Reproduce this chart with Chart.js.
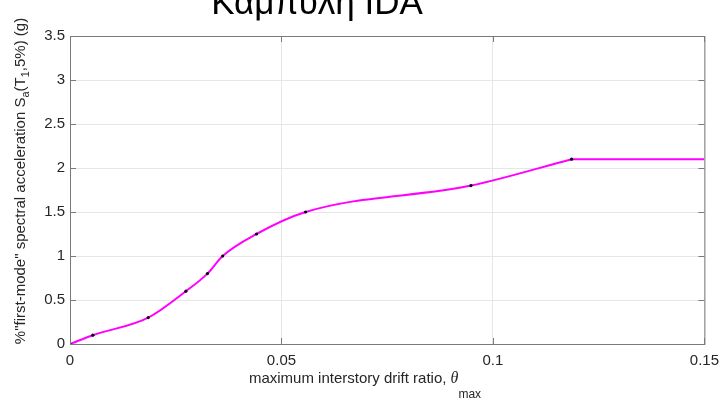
<!DOCTYPE html>
<html>
<head>
<meta charset="utf-8">
<script src="https://cdn.jsdelivr.net/npm/chart.js@4.4.0/dist/chart.umd.min.js"></script>
<style>
  html, body { margin: 0; padding: 0; background: #fff; }
</style>
</head>
<body>
<canvas id="idaChart" width="727" height="401"></canvas>
<script>
// IDA curve: max interstory drift vs first-mode spectral acceleration
const driftRatio = [0, 0.0054, 0.0185, 0.0274, 0.0325, 0.0361, 0.0441, 0.0557, 0.0948, 0.1186];
const spectralAcc = [0, 0.1, 0.3, 0.6, 0.8, 1.0, 1.25, 1.5, 1.8, 2.1];
// flatline after the last converged run
const flatDrift = [0.1186, 0.15];
const flatAcc = [2.1, 2.1];
const xTicks = [0, 0.05, 0.1, 0.15];
const yTicks = [0, 0.5, 1, 1.5, 2, 2.5, 3, 3.5];

const TEXT = '#262626';
const AXIS = '#7a7a7a';
const SANS = '"Liberation Sans", Arial, sans-serif';

function drawRuns(ctx, runs, x, y, angle) {
    ctx.save();
    ctx.translate(x, y);
    ctx.rotate(angle);
    let total = 0;
    runs.forEach(r => {
        ctx.font = r.font;
        r.w = ctx.measureText(r.text).width;
        total += r.w;
    });
    let cx = -total / 2;
    ctx.textAlign = 'left';
    ctx.textBaseline = 'alphabetic';
    ctx.fillStyle = TEXT;
    runs.forEach(r => {
        ctx.font = r.font;
        ctx.fillText(r.text, cx, r.dy || 0);
        cx += r.w;
    });
    ctx.restore();
}

// box around the axes with inward ticks, titles with subscripts
const matlabAxes = {
    id: 'matlabAxes',
    afterDatasetsDraw(chart) {
        const { ctx, chartArea: a, scales } = chart;
        ctx.save();
        ctx.strokeStyle = AXIS;
        ctx.lineWidth = 1;
        ctx.strokeRect(a.left + 0.5, a.top + 0.5, a.right - a.left, a.bottom - a.top);
        ctx.beginPath();
        xTicks.forEach(v => {
            const px = Math.round(scales.x.getPixelForValue(v)) + 0.5;
            ctx.moveTo(px, a.bottom); ctx.lineTo(px, a.bottom - 6);
            ctx.moveTo(px, a.top); ctx.lineTo(px, a.top + 6);
        });
        yTicks.forEach(v => {
            const py = Math.round(scales.y.getPixelForValue(v)) + 0.5;
            ctx.moveTo(a.left, py); ctx.lineTo(a.left + 6, py);
            ctx.moveTo(a.right, py); ctx.lineTo(a.right - 6, py);
        });
        ctx.stroke();
        ctx.restore();
    },
    afterDraw(chart) {
        const ctx = chart.ctx;
        const main = '15px ' + SANS;
        const sub = '11px ' + SANS;
        drawRuns(ctx, [
            { text: '%"first-mode" spectral acceleration S', font: main },
            { text: 'a', font: sub, dy: 4 },
            { text: '(T', font: main },
            { text: '1', font: sub, dy: 4 },
            { text: ',5%) (g)', font: main }
        ], 25, 181, -Math.PI / 2);
        drawRuns(ctx, [
            { text: 'maximum interstory drift ratio, ', font: main },
            { text: '\u03b8', font: 'italic 16px "Liberation Serif", serif' },
            { text: 'max', font: '12px ' + SANS, dy: 15 }
        ], 365, 383, 0);

        ctx.save();
        ctx.fillStyle = '#000';
        ctx.font = '35px ' + SANS;
        ctx.textAlign = 'center';
        ctx.textBaseline = 'alphabetic';
        ctx.fillText('Καμπύλη IDA', 317, 14);
        ctx.restore();
    }
};

const ctx = document.getElementById('idaChart').getContext('2d');
const idaChart = new Chart(ctx, {
    type: 'line',
    data: {
        datasets: [
            {
                label: 'IDA',
                data: driftRatio.map((x, i) => ({ x: x, y: spectralAcc[i] })),
                borderColor: '#ff00ff',
                borderWidth: 2,
                cubicInterpolationMode: 'monotone',
                pointRadius: 1.6,
                pointBorderWidth: 0,
                pointBackgroundColor: '#000',
                fill: false
            },
            {
                label: 'flatline',
                data: flatDrift.map((x, i) => ({ x: x, y: flatAcc[i] })),
                borderColor: '#ff00ff',
                borderWidth: 2,
                tension: 0,
                pointRadius: 0,
                fill: false
            }
        ]
    },
    options: {
        responsive: false,
        animation: false,
        layout: { padding: { top: 36, right: 22, left: 0, bottom: 0 } },
        plugins: {
            legend: { display: false },
            tooltip: { enabled: false },
            title: { display: false }
        },
        scales: {
            x: {
                type: 'linear',
                min: 0,
                max: 0.15,
                afterBuildTicks: s => { s.ticks = xTicks.map(v => ({ value: v })); },
                afterFit: s => { s.height = 57; },
                grid: { color: '#e6e6e6', drawTicks: false },
                border: { display: false },
                ticks: {
                    padding: 8,
                    color: TEXT,
                    font: { family: SANS, size: 15 },
                    maxRotation: 0,
                    callback: v => String(parseFloat(v.toFixed(2)))
                }
            },
            y: {
                type: 'linear',
                min: 0,
                max: 3.5,
                afterBuildTicks: s => { s.ticks = yTicks.map(v => ({ value: v })); },
                afterFit: s => { s.width = 70; },
                grid: { color: '#e6e6e6', drawTicks: false },
                border: { display: false },
                ticks: {
                    padding: 5,
                    color: TEXT,
                    font: { family: SANS, size: 15 },
                    callback: v => String(parseFloat(v.toFixed(2)))
                }
            }
        }
    },
    plugins: [matlabAxes]
});
</script>
</body>
</html>
